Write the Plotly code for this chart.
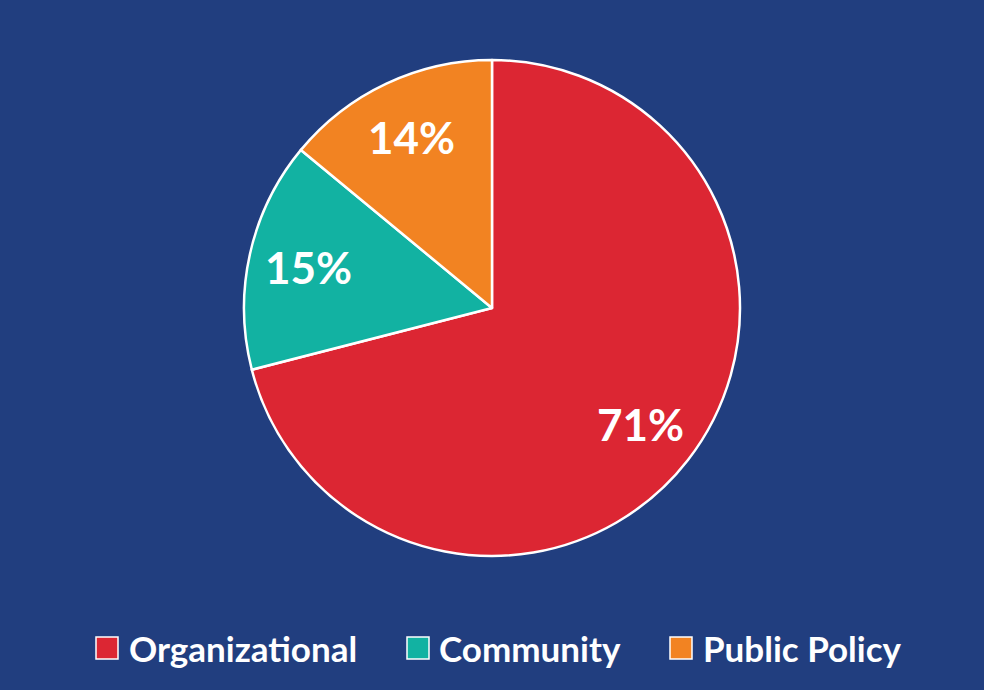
import numpy as np
import plotly.graph_objects as go

labels = ["Organizational", "Community", "Public Policy"]
values = [71, 15, 14]
colors = ["#DC2633", "#12B2A2", "#F28322"]

W, H = 984, 690
T, B = 60, 134
plot_h = H - T - B
radius = plot_h / 2

fig = go.Figure(go.Pie(
    labels=labels,
    values=values,
    sort=False,
    direction="clockwise",
    rotation=0,
    marker=dict(colors=colors, line=dict(color="white", width=2.5)),
    textinfo="none",
    hoverinfo="label+percent",
    showlegend=False,
))

# percent labels placed along each slice's mid angle
total = sum(values)
cum = np.cumsum([0] + values[:-1])
for v, c in zip(values, cum):
    theta = 2 * np.pi * (c + v / 2) / total
    r = 0.76 * radius
    fig.add_annotation(
        x=0.5 + r * np.sin(theta) / W, y=0.5 + r * np.cos(theta) / plot_h,
        xref="paper", yref="paper", xanchor="center", yanchor="middle",
        showarrow=False,
        text=f"{round(100 * v / total)}%",
        font=dict(family="Lato", size=44, color="white", weight="bold"),
    )

# legend drawn by hand so the swatches can be big
swatch_x = [96, 407, 670]
text_x = [127, 437, 701]
leg_y = 648
for lab, col, sx, tx in zip(labels, colors, swatch_x, text_x):
    fig.add_shape(
        type="rect", xref="paper", yref="paper",
        x0=sx / W, x1=(sx + 22) / W,
        y0=(H - B - (leg_y + 11)) / plot_h, y1=(H - B - (leg_y - 11)) / plot_h,
        fillcolor=col, line=dict(color="white", width=1.5),
    )
    fig.add_annotation(
        x=tx / W, y=(H - B - leg_y) / plot_h,
        xref="paper", yref="paper", xanchor="left", yanchor="middle",
        showarrow=False, text=lab,
        font=dict(family="Lato", size=35, color="white", weight="bold"),
    )

fig.update_layout(
    width=W, height=H,
    paper_bgcolor="#213E7F",
    plot_bgcolor="#213E7F",
    margin=dict(l=0, r=0, t=T, b=B),
)

fig.write_html("out.html", config={"displayModeBar": False},
               post_script="document.body.style.margin='0';document.body.style.background='#213E7F';")
